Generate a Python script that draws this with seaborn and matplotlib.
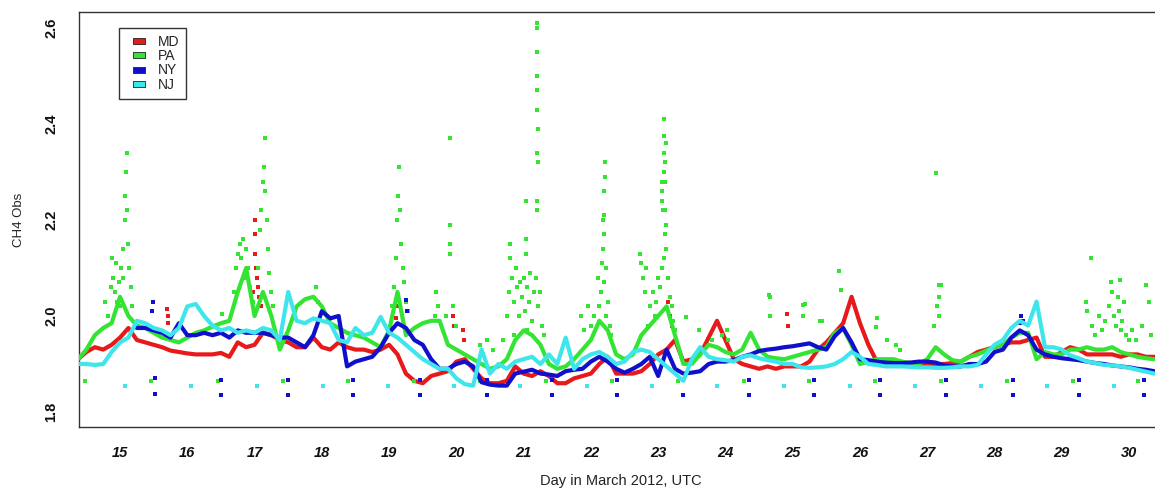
import numpy as np
import pandas as pd
import matplotlib
matplotlib.use("Agg")
import matplotlib.pyplot as plt
from matplotlib.lines import Line2D
import seaborn as sns

# ---------------------------------------------------------------------------
# Three-hourly CH4 (ppm) at each network, day of March 2012 (UTC)
# ---------------------------------------------------------------------------
step = 0.125

md_start = 14.375
md_ch4 = [
    1.91, 1.925, 1.935, 1.93, 1.94, 1.955, 1.975, 1.95, 1.945, 1.94, 1.935,
    1.928, 1.925, 1.922, 1.92, 1.92, 1.92, 1.923, 1.915, 1.945, 1.935, 1.94,
    1.965, 1.96, 1.95, 1.945, 1.935, 1.935, 1.955, 1.935, 1.93, 1.945, 1.935,
    1.93, 1.93, 1.925, 1.93, 1.94, 1.92, 1.88, 1.865, 1.86, 1.875,
    1.88, 1.885, 1.905, 1.91, 1.89, 1.87, 1.86, 1.86, 1.865, 1.895, 1.88,
    1.875, 1.885, 1.875, 1.86, 1.86, 1.87, 1.875, 1.88, 1.9, 1.915,
    1.88, 1.88, 1.88, 1.885, 1.9, 1.92, 1.93, 1.95, 1.905, 1.91, 1.92,
    1.955, 1.99, 1.95, 1.91, 1.9, 1.895, 1.89, 1.895, 1.89, 1.895,
    1.895, 1.895, 1.905, 1.93, 1.945, 1.965, 1.985, 2.04, 1.985, 1.94, 1.905,
    1.9, 1.9, 1.9, 1.9, 1.9, 1.9, 1.9, 1.9, 1.902, 1.905,
    1.915, 1.925, 1.93, 1.935, 1.94, 1.945, 1.945, 1.95, 1.955, 1.915, 1.915,
    1.925, 1.935, 1.93, 1.92, 1.92, 1.92, 1.92, 1.915, 1.92, 1.92, 1.915, 1.915,
]

pa_start = 14.375
pa_ch4 = [
    1.91, 1.93, 1.96, 1.975, 1.985, 2.04, 2.0, 1.98, 1.975, 1.965, 1.955,
    1.95, 1.945, 1.955, 1.965, 1.97, 1.978, 1.985, 1.99, 2.05, 2.1, 2.0,
    2.05, 2.0, 1.93, 1.97, 2.02, 2.035, 2.04, 2.02, 1.985, 1.975, 1.965,
    1.96, 1.955, 1.945, 1.935, 1.97, 2.05, 1.96, 1.975, 1.985, 1.99,
    1.99, 1.94, 1.93, 1.92, 1.91, 1.9, 1.89, 1.895, 1.91, 1.95, 1.97,
    1.96, 1.94, 1.9, 1.89, 1.895, 1.91, 1.93, 1.95, 1.99, 1.97,
    1.92, 1.91, 1.92, 1.96, 1.98, 2.0, 2.02, 1.96, 1.9, 1.9, 1.92,
    1.94, 1.935, 1.925, 1.92, 1.93, 1.965, 1.93, 1.915, 1.912, 1.91,
    1.915, 1.92, 1.925, 1.93, 1.935, 1.965, 1.975, 1.94, 1.9, 1.905, 1.91,
    1.91, 1.91, 1.905, 1.902, 1.9, 1.91, 1.935, 1.92, 1.908, 1.905,
    1.915, 1.92, 1.928, 1.935, 1.94, 1.955, 1.965, 1.965, 1.91, 1.925, 1.92,
    1.92, 1.93, 1.93, 1.935, 1.93, 1.93, 1.935, 1.925, 1.92, 1.915, 1.912, 1.91,
]

ny_start = 15.25
ny_ch4 = [
    1.975, 1.975, 1.97, 1.965, 1.955, 1.985, 1.96, 1.96, 1.965, 1.96, 1.965,
    1.955, 1.97, 1.965, 1.965,
    1.965, 1.96, 1.955, 1.955, 1.945, 1.935, 1.96, 2.01, 1.995, 2.0, 1.895,
    1.905, 1.91, 1.915, 1.935, 1.965, 1.985, 1.975, 1.95, 1.94, 1.91,
    1.89, 1.89, 1.9, 1.905, 1.895, 1.862, 1.857, 1.855, 1.855, 1.88, 1.884,
    1.888, 1.88, 1.878, 1.875, 1.885, 1.888, 1.89, 1.905, 1.915, 1.905,
    1.89, 1.882, 1.89, 1.9, 1.915, 1.875, 1.93, 1.89, 1.88, 1.882, 1.885,
    1.9, 1.905, 1.905, 1.908, 1.915, 1.92, 1.927, 1.93, 1.932, 1.935,
    1.937, 1.94, 1.943, 1.935, 1.93, 1.958, 1.975, 1.945, 1.91, 1.908, 1.905,
    1.903, 1.902, 1.902, 1.903, 1.905, 1.905, 1.903, 1.897, 1.895, 1.895,
    1.9, 1.9, 1.905, 1.925, 1.93, 1.955, 1.97, 1.96, 1.93, 1.92, 1.915,
    1.912, 1.91, 1.908, 1.905, 1.902, 1.9, 1.897, 1.895, 1.893, 1.89, 1.888, 1.885,
]

nj_start = 14.375
nj_ch4 = [
    1.9, 1.9, 1.898, 1.9, 1.925, 1.945, 1.955, 1.99, 1.985, 1.975, 1.97,
    1.96, 1.975, 2.02, 2.025, 2.0, 1.98, 1.97, 1.975, 1.965, 1.97, 1.965,
    1.975, 1.97, 1.95, 2.05, 1.99, 1.985, 1.995, 1.99, 1.985, 1.95, 1.945,
    1.975, 1.96, 1.965, 1.998, 1.965, 1.955, 1.94, 1.925, 1.91, 1.9,
    1.89, 1.89, 1.87, 1.858, 1.855, 1.93, 1.88, 1.9, 1.89, 1.905, 1.91,
    1.915, 1.9, 1.92, 1.9, 1.955, 1.89, 1.91, 1.92, 1.925, 1.915,
    1.9, 1.905, 1.925, 1.93, 1.925, 1.91, 1.895, 1.88, 1.865, 1.91, 1.935,
    1.915, 1.91, 1.908, 1.905, 1.915, 1.918, 1.912, 1.908, 1.905, 1.9,
    1.9, 1.893, 1.892, 1.893, 1.895, 1.9, 1.91, 1.925, 1.915, 1.9, 1.898,
    1.895, 1.895, 1.895, 1.894, 1.893, 1.893, 1.892, 1.892, 1.893, 1.895,
    1.895, 1.898, 1.92, 1.94, 1.95, 1.975, 1.99, 1.98, 2.03, 1.935, 1.935,
    1.93, 1.918, 1.912, 1.905, 1.902, 1.898, 1.897, 1.895, 1.892, 1.888, 1.884, 1.88,
]

# Short-lived plume enhancements
pa_spike_day = [
    14.78, 14.82, 14.86, 14.88, 14.9, 14.92, 14.94, 14.96, 14.98, 15.0, 15.02,
    15.04, 15.05, 15.07, 15.08, 15.09, 15.1, 15.11, 15.12, 15.14, 15.16, 15.18,
    16.52, 16.7, 16.73, 16.76, 16.78, 16.8, 16.83, 16.85, 16.88, 16.9, 16.93,
    16.97, 17.05, 17.08, 17.1, 17.12, 17.14, 17.15, 17.16, 17.18, 17.2, 17.22,
    17.25, 17.28, 17.92, 17.95,
    19.05, 19.08, 19.1, 19.12, 19.13, 19.15, 19.16, 19.18, 19.2, 19.22, 19.25,
    19.28, 19.68, 19.7, 19.72, 19.85, 19.9, 19.9, 19.91, 19.91, 19.95, 20.0,
    20.35, 20.4, 20.45, 20.55,
    21.2, 21.2, 21.2, 21.2, 21.2, 21.2, 21.21, 21.2, 21.21, 21.2, 21.2, 21.03,
    21.03, 21.03, 20.79, 20.8, 20.75, 20.78, 20.82, 20.85, 20.88, 20.9, 20.93,
    20.95, 20.97, 21.0, 21.02, 21.05, 21.08, 21.1, 21.12, 21.15, 21.18, 21.22,
    21.25, 21.28, 21.3, 20.7, 20.85, 21.05,
    22.21, 22.21, 22.2, 22.2, 22.19, 22.18, 22.18, 22.22, 22.2, 22.15, 22.12,
    22.1, 22.05, 22.0, 21.95, 21.9, 21.85, 22.25, 22.28, 22.3, 22.22, 22.17,
    22.73, 22.74, 22.77,
    23.09, 23.09, 23.11, 23.09, 23.1, 23.09, 23.1, 23.06, 23.06, 23.06, 23.07,
    23.1, 23.11, 23.1, 23.12, 23.08, 23.05, 23.03, 23.0, 22.97, 22.95, 22.92,
    22.88, 22.85, 22.82, 22.8, 23.15, 23.18, 23.2, 23.22, 23.25,
    23.42, 23.6, 23.8, 23.95, 24.03, 24.04,
    24.65, 24.66, 24.66, 25.15, 25.15, 25.18, 25.41, 25.43, 25.69, 25.72,
    26.24, 26.26, 26.4, 26.53, 26.6,
    27.1, 27.13, 27.15, 27.17, 27.17, 27.18, 27.2,
    29.36, 29.38, 29.43, 29.45, 29.5, 29.55, 29.6, 29.65, 29.7, 29.73, 29.75,
    29.78, 29.8, 29.83, 29.85, 29.87, 29.88, 29.9, 29.92, 29.95, 30.0, 30.05,
    30.1, 30.2, 30.25, 30.3, 30.32,
]
pa_spike_ch4 = [
    2.03, 2.0, 2.06, 2.12, 2.08, 2.05, 2.11, 2.03, 2.07, 2.02, 2.1,
    2.14, 2.08, 2.2, 2.25, 2.3, 2.34, 2.22, 2.15, 2.1, 2.06, 2.02,
    2.005, 2.05, 2.1, 2.13, 2.15, 2.12, 2.16, 2.08, 2.14, 2.1, 2.06,
    2.03, 2.1, 2.18, 2.22, 2.28, 2.31, 2.37, 2.26, 2.2, 2.14, 2.09,
    2.05, 2.02, 2.06, 2.03,
    2.02, 2.06, 2.12, 2.2, 2.25, 2.31, 2.22, 2.15, 2.1, 2.07, 2.03,
    2.01, 2.0, 2.05, 2.02, 2.0, 2.37, 2.19, 2.15, 2.13, 2.02, 1.98,
    1.94, 1.92, 1.95, 1.93,
    2.61, 2.6, 2.55, 2.5, 2.47, 2.43, 2.39, 2.34, 2.32, 2.24, 2.22, 2.24,
    2.16, 2.13, 2.15, 2.12, 2.0, 2.05, 2.08, 2.03, 2.1, 2.06, 2.0,
    2.07, 2.04, 2.08, 2.01, 2.06, 2.03, 2.09, 1.99, 2.05, 2.08, 2.02,
    2.05, 1.98, 1.96, 1.95, 1.96, 1.97,
    2.32, 2.29, 2.26, 2.21, 2.17, 2.2, 2.14, 2.1, 2.07, 2.05, 2.02,
    2.08, 2.0, 1.98, 2.02, 1.97, 2.0, 2.03, 1.98, 1.96, 2.0, 2.11,
    2.13, 2.11, 2.08,
    2.41, 2.375, 2.36, 2.34, 2.32, 2.3, 2.28, 2.28, 2.26, 2.24, 2.22,
    2.22, 2.19, 2.17, 2.14, 2.12, 2.1, 2.06, 2.08, 2.03, 2.0, 2.05,
    2.02, 1.98, 2.1, 2.05, 2.08, 2.04, 2.02, 1.99, 1.97,
    1.997, 1.97, 1.95, 1.96, 1.97, 1.95,
    2.044, 2.0, 2.04, 2.023, 2.0, 2.025, 1.99, 1.99, 2.093, 2.054,
    1.977, 1.996, 1.95, 1.94, 1.93,
    1.98, 2.297, 2.02, 2.065, 2.04, 2.0, 2.065,
    2.03, 2.01, 2.12, 1.98, 1.96, 2.0, 1.97, 1.99, 2.02, 2.07, 2.05,
    2.0, 1.98, 2.04, 2.01, 2.075, 1.97, 1.99, 2.03, 1.96, 1.95, 1.97,
    1.95, 1.98, 2.065, 2.03, 1.96,
]

md_spike_day = [15.7, 15.71, 15.72, 16.98, 17.0, 17.0, 17.01, 17.02, 17.04,
                17.05, 17.07, 17.09, 19.1, 19.12, 19.95, 19.96, 20.1, 20.11,
                23.15, 23.17, 23.2, 24.92, 24.93]
md_spike_ch4 = [2.015, 2.0, 1.985, 2.05, 2.2, 2.17, 2.13, 2.1, 2.08,
                2.06, 2.04, 2.02, 1.995, 2.02, 2.0, 1.98, 1.97, 1.95,
                2.03, 2.0, 1.98, 2.005, 1.98]

ny_spike_day = [15.47, 15.49, 19.25, 19.27, 28.38, 28.4, 28.42]
ny_spike_ch4 = [2.01, 2.03, 2.033, 2.01, 1.985, 2.0, 1.99]

# Reference-tank measurements
nj_cal_day = [15.07, 16.05, 17.03, 18.02, 18.99, 19.97, 20.95, 21.94, 22.91,
              23.88, 24.87, 25.85, 26.82, 27.8, 28.78, 29.77]
nj_cal_ch4 = [1.855, 1.855, 1.855, 1.855, 1.855, 1.855, 1.854, 1.854, 1.854,
              1.854, 1.854, 1.854, 1.854, 1.854, 1.854, 1.854]
pa_cal_day = [14.48, 15.46, 16.46, 17.42, 18.39, 19.37, 20.35, 21.33, 22.32,
              23.29, 24.27, 25.24, 26.22, 27.2, 28.18, 29.16, 30.13]
pa_cal_ch4 = [1.864, 1.864, 1.864, 1.864, 1.864, 1.864, 1.864, 1.864, 1.864,
              1.864, 1.864, 1.864, 1.864, 1.864, 1.864, 1.864, 1.864]
ny_cal_day = [15.52, 16.5, 17.49, 18.46, 19.46, 20.45, 21.42, 22.39, 23.37,
              24.35, 25.31, 26.3, 27.28, 28.27, 29.25, 30.22]
ny_cal_hi = [1.87, 1.867, 1.867, 1.867, 1.866, 1.866, 1.866, 1.866, 1.866,
             1.866, 1.866, 1.866, 1.866, 1.866, 1.866, 1.866]
ny_cal_lo = [1.838, 1.836, 1.836, 1.835, 1.835, 1.835, 1.835, 1.835, 1.835,
             1.835, 1.835, 1.835, 1.835, 1.835, 1.835, 1.835]

sites = ["MD", "PA", "NY", "NJ"]
colors = {"MD": "#e8191a", "PA": "#33e433", "NY": "#1010cc", "NJ": "#3ee6ec"}


def series_frame(name, start, values):
    days = start + step * np.arange(len(values))
    return pd.DataFrame({"day": days, "ch4": values, "site": name})


lines = {
    "MD": series_frame("MD", md_start, md_ch4),
    "PA": series_frame("PA", pa_start, pa_ch4),
    "NY": series_frame("NY", ny_start, ny_ch4),
    "NJ": series_frame("NJ", nj_start, nj_ch4),
}
spikes = {
    "MD": (md_spike_day, md_spike_ch4),
    "PA": (pa_spike_day, pa_spike_ch4),
    "NY": (ny_spike_day, ny_spike_ch4),
    "NJ": ([], []),
}
cals = {
    "MD": ([], []),
    "PA": (pa_cal_day, pa_cal_ch4),
    "NY": (ny_cal_day + ny_cal_day, ny_cal_hi + ny_cal_lo),
    "NJ": (nj_cal_day, nj_cal_ch4),
}

sns.set_style("white")
plt.rcParams["font.family"] = ["Liberation Sans", "DejaVu Sans"]

fig = plt.figure(figsize=(11.55, 4.9), dpi=100)
ax = fig.add_axes([79 / 1155, 63 / 490, (1162 - 79) / 1155, 415 / 490])

for z, site in enumerate(sites):
    col = colors[site]
    sns.lineplot(data=lines[site], x="day", y="ch4", color=col, lw=3.0,
                 estimator=None, sort=True, ax=ax, zorder=2 + z, legend=False)
    sd, sv = spikes[site]
    if sd:
        sns.scatterplot(x=sd, y=sv, color=col, marker="s", s=5, linewidth=0,
                        ax=ax, zorder=2 + z)
    cd, cv = cals[site]
    if cd:
        sns.scatterplot(x=cd, y=cv, color=col, marker="s", s=7, linewidth=0,
                        ax=ax, zorder=2 + z)

ax.set_xlim(14.39, 30.49)
ax.set_ylim(1.76875, 2.6333)
ax.set_xticks(range(15, 31))
ax.set_yticks([1.8, 2.0, 2.2, 2.4, 2.6])
ax.set_xticklabels([str(d) for d in range(15, 31)], fontsize=10.5,
                   fontweight="bold", fontstyle="italic")
ax.set_yticklabels(["1.8", "2.0", "2.2", "2.4", "2.6"], fontsize=10.5,
                   fontweight="bold", rotation=90, va="center")
ax.tick_params(axis="both", direction="out", length=6, width=1,
               color="#333333", labelcolor="#111111")
ax.tick_params(axis="x", pad=8)
ax.tick_params(axis="y", pad=9)
for sp in ax.spines.values():
    sp.set_color("#333333")
    sp.set_linewidth(1.0)
    sp.set_visible(True)

ax.set_xlabel("Day in March 2012, UTC", fontsize=10.5, color="#222222",
              labelpad=10)
ax.set_ylabel("CH4 Obs", fontsize=9.5, color="#222222", labelpad=14)

rect = [(-1, -0.58), (1, -0.58), (1, 0.58), (-1, 0.58), (-1, -0.58)]
handles = [Line2D([], [], linestyle="none", marker=rect, markersize=8.6,
                  markerfacecolor=colors[s], markeredgecolor="#222222",
                  markeredgewidth=0.6, label=s) for s in sites]
leg = ax.legend(handles=handles, loc="upper left",
                bbox_to_anchor=(40 / 1083, 399 / 415), borderaxespad=0,
                fontsize=10, frameon=True, fancybox=False, borderpad=0.5,
                handlelength=1.885, handletextpad=0.42, labelspacing=0.02)
frame = leg.get_frame()
frame.set_edgecolor("#333333")
frame.set_linewidth(1.0)
frame.set_facecolor("white")
frame.set_alpha(1)
leg.set_zorder(20)

fig.savefig("out.png", dpi=100, facecolor="white")
